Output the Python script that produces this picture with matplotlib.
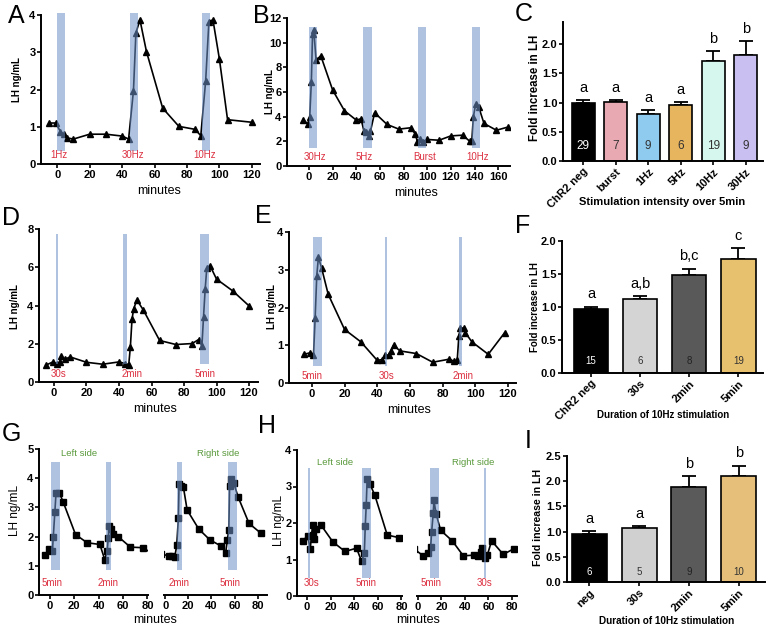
import numpy as np
import matplotlib
matplotlib.use("Agg")
import matplotlib.pyplot as plt

plt.rcParams['font.family'] = ['Liberation Sans', 'DejaVu Sans']

W, H = 768, 627
BAND = "#6e93ca"
RED = "#dc3040"
GREEN = "#5a9a3c"

# ---- panel A ----
A_t = [-5, -1, 2, 4, 6, 10, 20, 30, 40, 44, 47, 48.5, 51, 55, 65, 75, 85, 88.5, 91.5, 93.5, 96, 100, 105, 120]
A_lh = [1.10, 1.10, 0.87, 0.80, 0.70, 0.67, 0.80, 0.80, 0.75, 0.67, 1.97, 3.52, 3.87, 3.02,
        1.50, 1.01, 0.93, 0.76, 2.23, 3.82, 3.87, 2.81, 1.19, 1.12]
A_bands = [(0, 5), (45, 50), (89, 94)]
A_labels = ["1Hz", "30Hz", "10Hz"]
A_label_x = [1, 47, 91]

# ---- panel B ----
B_t = [-5, -1, 0.6, 2, 3, 4, 6, 10, 20, 30, 40, 44, 46.5, 48.5, 50.5, 52, 55.5, 66, 76, 86,
       90, 91.7, 94, 96.5, 100, 110, 120, 130, 136, 137.7, 139, 141, 143.5, 148, 158.5, 168]
B_lh = [3.77, 3.39, 3.94, 6.84, 10.7, 11.05, 8.6, 8.93, 6.16, 4.48, 3.72, 3.83, 2.82, 2.77,
        2.42, 2.82, 4.32, 3.37, 2.99, 3.10, 2.58, 1.95, 2.2, 1.98, 2.15, 2.09, 2.44, 2.5,
        2.0, 2.02, 3.99, 5.02, 4.8, 3.45, 2.9, 3.15]
B_bands = [(0, 7), (46, 53), (92, 99), (138, 145)]
B_labels = ["30Hz", "5Hz", "Burst", "10Hz"]
B_label_x = [5, 46.5, 98, 142.5]

# ---- panel C ----
C_cats = ["ChR2 neg", "burst", "1Hz", "5Hz", "10Hz", "30Hz"]
C_vals = [0.985, 1.01, 0.80, 0.955, 1.72, 1.82]
C_err = [0.055, 0.035, 0.07, 0.055, 0.16, 0.23]
C_letters = ["a", "a", "a", "a", "b", "b"]
C_n = ["29", "7", "9", "6", "19", "9"]
C_colors = ["#000000", "#e8a9b3", "#8fcbee", "#e8b55f", "#d6f7ee", "#c9bff0"]
C_ncol = ["white", "#333333", "#333333", "#333333", "#333333", "#333333"]

# ---- panel D ----
D_t = [-5, -0.6, 1.8, 3.5, 4.5, 6.6, 10, 20, 30, 40, 44, 46, 47, 48, 49, 51, 55, 65, 75, 85,
       89, 91, 92, 93, 94, 96, 100, 110, 120]
D_lh = [0.88, 1.05, 0.93, 1.05, 1.35, 1.19, 1.31, 1.03, 0.93, 1.05, 0.96, 0.91, 1.84, 3.27,
        3.82, 4.29, 3.76, 2.17, 1.96, 2.01, 2.22, 1.89, 3.41, 4.85, 5.95, 6.08, 5.38, 4.76, 3.98]
D_bands = [(1.4, 2.4), (42.5, 45), (89.6, 95.2)]
D_labels = ["30s", "2min", "5min"]
D_label_x = [3, 48, 93]

# ---- panel E ----
E_t = [-5, -1, 1, 2, 3, 4, 6, 10, 20, 30, 40, 43, 45, 47, 48.5, 50, 54, 64, 74, 84, 87, 89,
       90, 91, 93, 94, 98, 108, 118]
E_lh = [0.76, 0.80, 0.73, 1.71, 2.84, 3.33, 3.04, 2.35, 1.42, 1.09, 0.60, 0.62, 0.74, 0.74,
        0.85, 1.0, 0.85, 0.78, 0.55, 0.63, 0.58, 0.60, 1.24, 1.46, 1.45, 1.33, 1.09, 0.76, 1.33]
E_bands = [(1, 6.3), (45, 46.3), (89.8, 92.2)]
E_labels = ["5min", "30s", "2min"]
E_label_x = [0, 46, 92.5]

# ---- panel F ----
F_cats = ["ChR2 neg", "30s", "2min", "5min"]
F_vals = [0.965, 1.125, 1.49, 1.72]
F_err = [0.04, 0.04, 0.09, 0.17]
F_letters = ["a", "a,b", "b,c", "c"]
F_n = ["15", "6", "8", "19"]
F_colors = ["#000000", "#d4d4d4", "#595959", "#e8c16f"]
F_ncol = ["white", "#333333", "#222222", "#333333"]

# ---- panel G ----
G1_t = [-4, -0.5, 2, 2.7, 4, 5, 7.7, 11, 21, 30.5, 41, 45, 47, 47.8, 48.6, 50, 52, 56, 66, 76, 86]
G1_lh = [1.36, 1.56, 1.49, 1.98, 2.83, 3.5, 3.5, 3.17, 2.07, 1.79, 1.73, 1.21, 1.5, 1.95,
         2.35, 2.26, 2.1, 2.0, 1.64, 1.62, 1.38]
G2_t = [-4, 3.4, 5.7, 8.3, 10, 11.4, 12, 13.7, 15.7, 19, 29, 38.6, 48.6, 52.3, 53.7, 55,
        55.7, 57.1, 59.4, 63, 72.5, 82.6]
G2_lh = [1.42, 1.33, 1.32, 1.30, 1.70, 2.62, 3.79, 3.75, 3.71, 2.91, 2.26, 1.89, 1.67, 1.45,
         1.87, 2.24, 3.73, 3.96, 3.82, 3.36, 2.45, 2.12]
G1_bands = [(0.5, 8.2), (46.4, 50)]
G2_bands = [(10, 14.3), (54.6, 62.3)]
G1_labels, G1_label_x = ["5min", "2min"], [2, 48]
G2_labels, G2_label_x = ["2min", "5min"], [12, 56]

# ---- panel H ----
H1_t = [-3.4, 0.6, 2.8, 4.8, 5.3, 6.2, 7.9, 12, 22, 32.3, 42, 46.3, 48.6, 49.4, 50.2, 51,
        53.3, 57.5, 68, 77.8, 86]
H1_lh = [1.51, 1.65, 1.29, 1.95, 1.67, 1.56, 1.83, 1.94, 1.48, 1.22, 1.31, 0.95, 1.17, 1.92,
         2.48, 3.21, 3.07, 2.76, 1.67, 1.60, 1.40]
H2_t = [-3, 4.5, 8.8, 10.8, 11.6, 13, 13.6, 15.3, 19.3, 29.2, 38.6, 47.7, 51.3, 53.3, 54.5,
        57, 59, 62.7, 72.6, 82]
H2_lh = [1.28, 1.10, 1.17, 1.35, 1.75, 2.28, 2.62, 2.26, 1.80, 1.51, 1.10, 1.12, 1.10, 1.21,
         1.32, 1.03, 1.12, 1.51, 1.14, 1.30]
H1_bands = [(0.8, 2.5), (46.3, 54.2)]
H2_bands = [(10.2, 18.1), (55.8, 57.6)]
H1_labels, H1_label_x = ["30s", "5min"], [3.6, 50]
H2_labels, H2_label_x = ["5min", "30s"], [10.8, 56.5]

# ---- panel I ----
I_cats = ["neg", "30s", "2min", "5min"]
I_vals = [0.95, 1.08, 1.89, 2.10]
I_err = [0.06, 0.03, 0.21, 0.21]
I_letters = ["a", "a", "b", "b"]
I_n = ["6", "5", "9", "10"]
I_colors = ["#000000", "#d0d0d0", "#5a5a5a", "#e6c07a"]
I_ncol = ["white", "#333333", "#222222", "#333333"]

fig = plt.figure(figsize=(W / 100, H / 100), dpi=100)


def add_ax(l, t, r, b):
    return fig.add_axes([l / W, 1 - b / H, (r - l) / W, (b - t) / H])


def style(ax, left=True):
    for s in ["top", "right"]:
        ax.spines[s].set_visible(False)
    ax.spines["bottom"].set_linewidth(1.4)
    ax.spines["left"].set_linewidth(1.4)
    if not left:
        ax.spines["left"].set_visible(False)
        ax.set_yticks([])
    ax.tick_params(direction="out", length=2.8, width=1.2, labelsize=8, pad=1.2)
    for lab in ax.get_xticklabels() + ax.get_yticklabels():
        lab.set_fontweight("bold")


def ftext(x, y, s, **kw):
    fig.text(x / W, 1 - y / H, s, **kw)


def line_panel(ax, t, lh, marker, ms, bands, ylo, yhi, labels, label_x, label_y, fs=7):
    ax.plot(t, lh, color="black", lw=1.2, marker=marker, ms=ms, zorder=2)
    for x0, x1 in bands:
        ax.fill_between([x0, x1], ylo, yhi, color=BAND, alpha=0.55, lw=0, zorder=3, clip_on=False)
    for s, x in zip(labels, label_x):
        ax.text(x, label_y, s, color=RED, fontsize=fs, ha="center", va="center", zorder=4)


def bar_panel(ax, cats, vals, err, colors, letters, n, ncol, nfs, noff, lfs=10.5, tfs=7.5):
    x = np.arange(len(cats))
    ax.errorbar(x, vals, yerr=[np.zeros(len(vals)), err], fmt="none", ecolor="black",
                elinewidth=1.3, capsize=5, capthick=1.3, zorder=1)
    ax.bar(x, vals, width=0.7, color=colors, edgecolor="black", linewidth=1.2, zorder=2)
    for xi, v, e, s in zip(x, vals, err, letters):
        ax.annotate(s, (xi, v + e), xytext=(0, 6), textcoords="offset points",
                    ha="center", va="baseline", fontsize=lfs)
    for xi, s, c in zip(x, n, ncol):
        ax.annotate(s, (xi, 0), xytext=(0, noff), textcoords="offset points",
                    ha="center", va="center", fontsize=nfs, color=c, zorder=3)
    ax.set_xticks(x)
    ax.set_xticklabels(cats, rotation=45, ha="right", va="top", rotation_mode="anchor",
                       fontsize=tfs, fontweight="bold")


# A
ax = add_ax(41, 15, 260, 164)
line_panel(ax, A_t, A_lh, "^", 4.5, A_bands, 0.34, 4.05, A_labels, A_label_x, 0.25)
ax.set_xlim(-10, 125); ax.set_ylim(0, 4)
ax.set_xticks(range(0, 121, 20)); ax.set_yticks(range(0, 5))
style(ax)

# B
ax = add_ax(287, 18, 510, 166)
line_panel(ax, B_t, B_lh, "^", 4.5, B_bands, 1.47, 11.3, B_labels, B_label_x, 0.7)
ax.set_xlim(-18.6, 170); ax.set_ylim(0, 12)
ax.set_xticks(range(0, 161, 20)); ax.set_yticks(range(0, 13, 2))
style(ax)

# C
ax = add_ax(563, 22, 763, 161)
bar_panel(ax, C_cats, C_vals, C_err, C_colors, C_letters, C_n, C_ncol, 8.5, 11)
ax.set_xlim(-0.62, 5.53); ax.set_ylim(0, 2.38)
ax.set_yticks(np.arange(0, 2.01, 0.5))
ax.set_yticklabels(["0.0", "0.5", "1.0", "1.5", "2.0"])
style(ax)

# D
ax = add_ax(39, 229, 258, 382)
line_panel(ax, D_t, D_lh, "^", 4.5, D_bands, 0.95, 7.74, D_labels, D_label_x, 0.44)
ax.set_xlim(-9.2, 125.5); ax.set_ylim(0, 8)
ax.set_xticks(range(0, 121, 20)); ax.set_yticks(range(0, 9, 2))
style(ax)

# E
ax = add_ax(289, 232, 516, 383)
line_panel(ax, E_t, E_lh, "^", 4.5, E_bands, 0.44, 3.88, E_labels, E_label_x, 0.19)
ax.set_xlim(-14, 125); ax.set_ylim(0, 4)
ax.set_xticks(range(0, 121, 20)); ax.set_yticks(range(0, 5))
style(ax)

# F
ax = add_ax(562, 241, 763, 373)
bar_panel(ax, F_cats, F_vals, F_err, F_colors, F_letters, F_n, F_ncol, 7, 9, tfs=7)
ax.set_xlim(-0.59, 3.5); ax.set_ylim(0, 2.0)
ax.set_yticks(np.arange(0, 2.01, 0.5))
ax.set_yticklabels(["0.0", "0.5", "1.0", "1.5", "2.0"])
style(ax)

# G
ax = add_ax(39, 449, 148, 595)
line_panel(ax, G1_t, G1_lh, "s", 3.8, G1_bands, 0.85, 4.57, G1_labels, G1_label_x, 0.42)
ax.text(24, 4.83, "Left side", color=GREEN, fontsize=6.8, ha="center", va="center")
ax.set_xlim(-9, 80.5); ax.set_ylim(0, 5)
ax.set_xticks(range(0, 81, 20)); ax.set_yticks(range(0, 6))
style(ax)
ax = add_ax(164, 449, 267, 595)
line_panel(ax, G2_t, G2_lh, "s", 3.8, G2_bands, 0.85, 4.57, G2_labels, G2_label_x, 0.42)
ax.text(46, 4.83, "Right side", color=GREEN, fontsize=6.8, ha="center", va="center")
ax.set_xlim(-1, 88); ax.set_ylim(0, 5)
ax.set_xticks(range(0, 81, 20))
style(ax, left=False)

# H
ax = add_ax(297, 450, 402, 596)
line_panel(ax, H1_t, H1_lh, "s", 3.8, H1_bands, 0.5, 3.52, H1_labels, H1_label_x, 0.35)
ax.text(24, 3.66, "Left side", color=GREEN, fontsize=6.8, ha="center", va="center")
ax.set_xlim(-8.4, 80.5); ax.set_ylim(0, 4)
ax.set_xticks(range(0, 81, 20)); ax.set_yticks(range(0, 5))
style(ax)
ax = add_ax(417, 450, 517, 596)
line_panel(ax, H2_t, H2_lh, "s", 3.8, H2_bands, 0.5, 3.52, H2_labels, H2_label_x, 0.35)
ax.text(47, 3.66, "Right side", color=GREEN, fontsize=6.8, ha="center", va="center")
ax.set_xlim(-0.85, 84.3); ax.set_ylim(0, 4)
ax.set_xticks(range(0, 81, 20))
style(ax, left=False)

# I
ax = add_ax(567, 456, 765, 582)
bar_panel(ax, I_cats, I_vals, I_err, I_colors, I_letters, I_n, I_ncol, 7, 7.5, tfs=7)
ax.set_xlim(-0.45, 3.53); ax.set_ylim(0, 2.5)
ax.set_yticks(np.arange(0, 2.51, 0.5))
ax.set_yticklabels(["0.0", "0.5", "1.0", "1.5", "2.0", "2.5"])
style(ax)

# axis titles
for x, y in [(159, 191), (416, 193), (155, 409), (409, 410), (155, 620), (418, 620)]:
    ftext(x, y, "minutes", fontsize=9, ha="center", va="center")
for x, y in [(17, 80), (270, 92), (15, 307), (272, 307)]:
    ftext(x, y, "LH ng/mL", fontsize=7, fontweight="bold", rotation=90, ha="center", va="center")
for x, y in [(15, 510), (279, 520)]:
    ftext(x, y, "LH ng/mL", fontsize=8.5, rotation=90, ha="center", va="center")
ftext(535, 88, "Fold increase in LH", fontsize=8.3, fontweight="bold", rotation=90, ha="center", va="center")
ftext(535, 307, "Fold increase in LH", fontsize=7, fontweight="bold", rotation=90, ha="center", va="center")
ftext(538, 517, "Fold increase in LH", fontsize=7.6, fontweight="bold", rotation=90, ha="center", va="center")
ftext(662, 202, "Stimulation intensity over 5min", fontsize=8, fontweight="bold", ha="center", va="center")
ftext(663, 415, "Duration of 10Hz stimulation", fontsize=7, fontweight="bold", ha="center", va="center")
ftext(667, 621, "Duration of 10Hz stimulation", fontsize=7.2, fontweight="bold", ha="center", va="center")

# panel letters
for s, x, y in [("A", 8, 4), ("B", 253, 4), ("C", 515, 2), ("D", 2, 206), ("E", 255, 204),
                ("F", 515, 214), ("G", 2, 422), ("H", 258, 414), ("I", 525, 429)]:
    ftext(x, y, s, fontsize=18, ha="left", va="top")

fig.savefig("out.png", dpi=100)
